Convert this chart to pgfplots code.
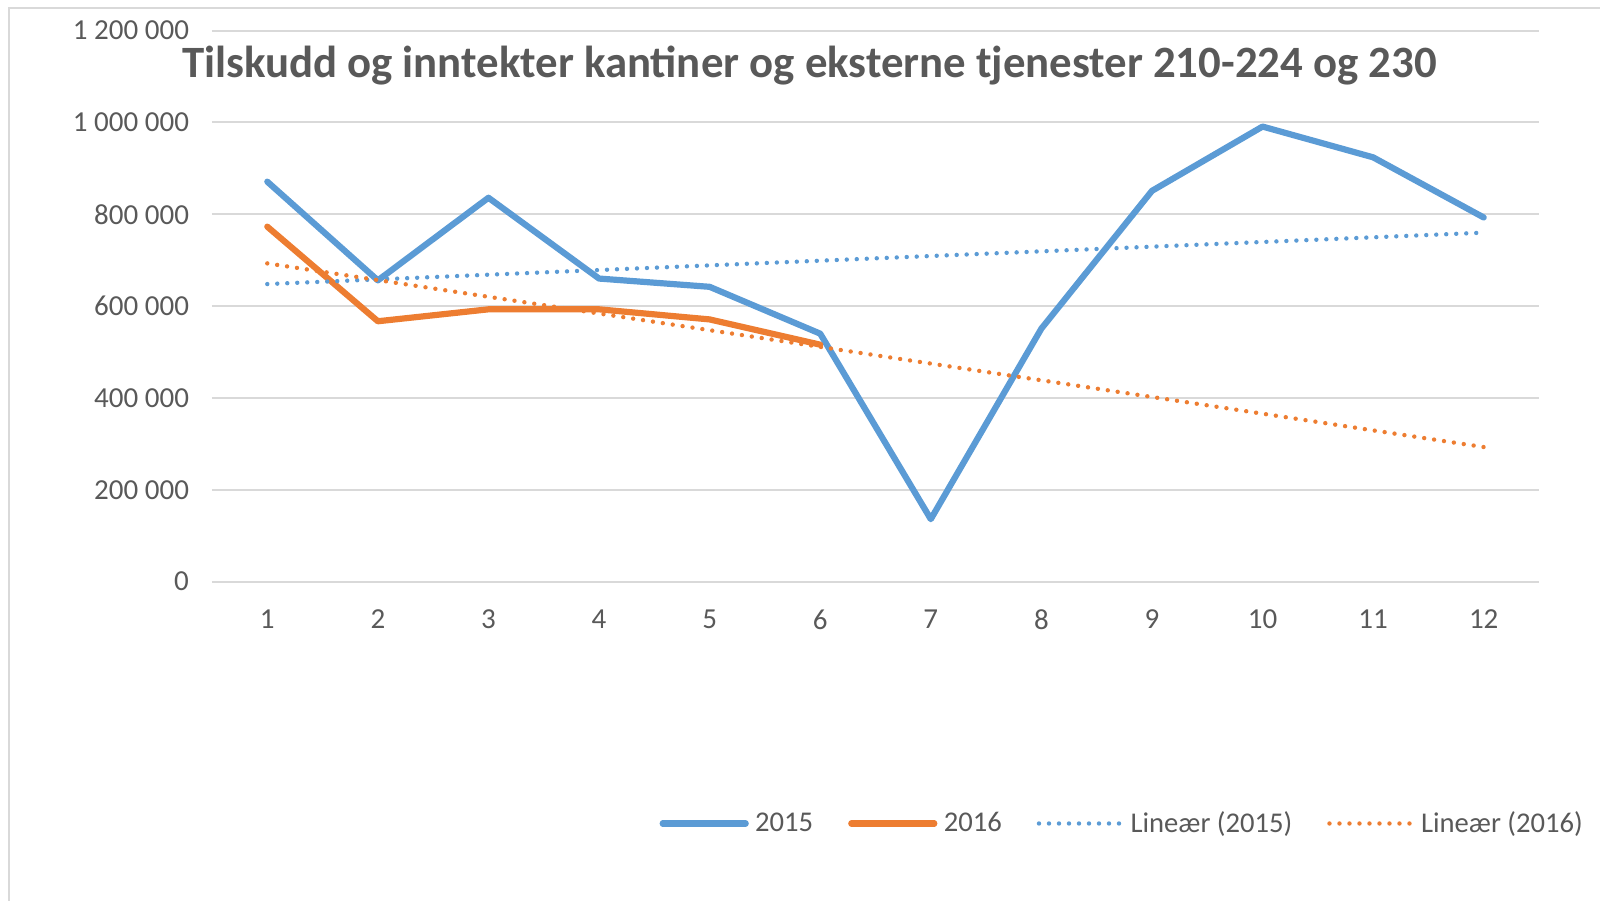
\documentclass[border=0pt]{standalone}
\usepackage{pgfplots}
\pgfplotsset{compat=1.18}
\usepackage{fontspec}
\setmainfont{Carlito}
\definecolor{cblue}{HTML}{5B9BD5}
\definecolor{corange}{HTML}{ED7D31}
\definecolor{cgrid}{HTML}{D9D9D9}
\definecolor{ctext}{HTML}{595959}
\begin{document}
\begin{tikzpicture}
\useasboundingbox (-106pt,-159.2pt) rectangle (694pt,290.8pt);
\draw[cgrid, line width=1pt] (-101.5pt,-170pt) -- (-101.5pt,286.8pt) -- (700pt,286.8pt);
\begin{axis}[
  scale only axis,
  width=663.5pt, height=275.5pt,
  xmin=0.5, xmax=12.5,
  ymin=0, ymax=1200000,
  xtick={1,...,12},
  ytick={0,200000,400000,600000,800000,1000000,1200000},
  yticklabels={0,200\ 000,400\ 000,600\ 000,800\ 000,1\ 000\ 000,1\ 200\ 000},
  scaled ticks=false,
  /pgf/number format/assume math mode=true,
  axis line style={draw=none},
  major tick length=0pt,
  ymajorgrids,
  grid style={cgrid, line width=1pt},
  tick label style={font=\fontsize{14.5}{17}\selectfont, text=ctext},
  yticklabel style={xshift=-8pt},
  xticklabel style={yshift=-10.6pt},
  clip=false,
  legend columns=4,
  legend style={at={(0.337,-0.439)}, anchor=west, draw=none, inner sep=0pt,
    font=\fontsize{14.3}{17}\selectfont, text=ctext,
    /tikz/every odd column/.append style={column sep=1.2pt},
    /tikz/every even column/.append style={column sep=15.5pt}},
  legend image code/.code={\draw[#1] (0pt,0pt) -- (41.5pt,0pt);},
]
\addplot[cblue, line width=3.1pt, line join=round, line cap=round] coordinates {
 (1,871000) (2,656000) (3,836000) (4,660000) (5,642000) (6,540000)
 (7,136000) (8,551000) (9,851000) (10,991000) (11,924000) (12,793000)};
\addlegendentry{2015}
\addplot[corange, line width=3.1pt, line join=round, line cap=round] coordinates {
 (1,773000) (2,567000) (3,593000) (4,593000) (5,571000) (6,516000)};
\addlegendentry{2016}
\addplot[cblue, line width=2.2pt, line cap=round, dash pattern=on 0pt off 5pt] coordinates {
 (1,648000) (12,760000)};
\addlegendentry{Lineær (2015)}
\addplot[corange, line width=2.2pt, line cap=round, dash pattern=on 0pt off 5pt] coordinates {
 (1,693000) (12,293000)};
\addlegendentry{Lineær (2016)}
\end{axis}
\node[text=ctext, font=\fontsize{22.4}{27}\selectfont\bfseries, inner sep=0pt] at (298.75pt,258pt) {Tilskudd og inntekter kantiner og eksterne tjenester 210-224 og 230};
\end{tikzpicture}
\end{document}
